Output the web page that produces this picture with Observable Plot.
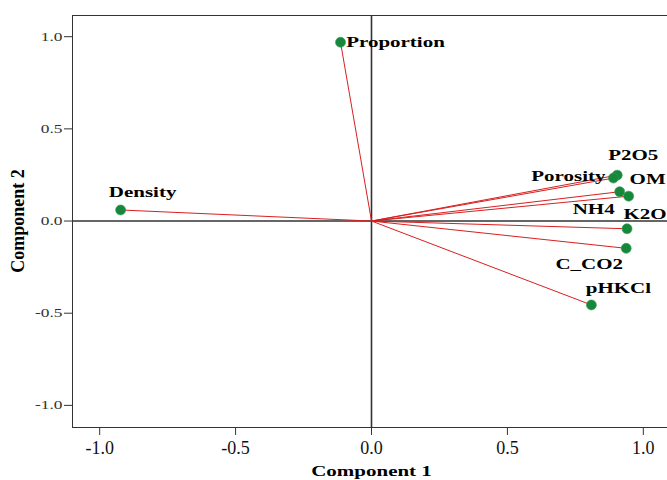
<!DOCTYPE html>
<html><head><meta charset="utf-8">
<script src="https://cdn.jsdelivr.net/npm/d3@7"></script>
<script src="https://cdn.jsdelivr.net/npm/@observablehq/plot@0.6"></script>
<style>
html,body{margin:0;padding:0;overflow:hidden;background:#fff}
#chart svg{max-width:none !important;width:672px !important;height:480px !important;display:block}
</style>
</head><body><div id="chart"></div>
<script>
// Component loadings
const variables = ["Proportion", "Density", "P2O5", "Porosity", "OM", "NH4", "K2O", "C_CO2", "pHKCl"];
const comp1 = [-0.114, -0.923, 0.904, 0.890, 0.946, 0.913, 0.940, 0.937, 0.809];
const comp2 = [0.970, 0.060, 0.249, 0.233, 0.135, 0.159, -0.042, -0.148, -0.455];
const xTicks = [-1.0, -0.5, 0.0, 0.5, 1.0];
const yTicks = [-1.0, -0.5, 0.0, 0.5, 1.0];
const xTitle = "Component 1";
const yTitle = "Component 2";

const data = variables.map((name, i) => ({name, c1: comp1[i], c2: comp2[i]}));

// label placement (pixel offsets, layout only)
const labelOffset = {
  Proportion: [55, 0], Density: [22, -18], P2O5: [16, -20], Porosity: [-45, -2],
  OM: [19, -17], NH4: [-26, 17], K2O: [18, -15], C_CO2: [-37, 16], pHKCl: [27, -17]
};

const X0 = -1.1, X1 = 1.1, Y0 = -1.12, Y1 = 1.115;
const axisColor = "#333";

const marks = [
  Plot.ruleY([0], {stroke: axisColor, strokeWidth: 1.6}),
  Plot.ruleX([0], {stroke: axisColor, strokeWidth: 1.6}),
  Plot.frame({stroke: axisColor, strokeWidth: 1}),
  Plot.ruleX(xTicks, {x: d => d, y1: Y0, y2: Y0, insetBottom: -8, stroke: axisColor}),
  Plot.ruleY(yTicks, {y: d => d, x1: X0, x2: X0, insetLeft: -8, stroke: axisColor}),
  Plot.link(data, {x1: 0, y1: 0, x2: "c1", y2: "c2", stroke: "#d91f1f", strokeWidth: 1}),
  Plot.dot(data, {x: "c1", y: "c2", r: 5, fill: "#17873b", stroke: "#2c9e52", strokeWidth: 0.6}),
  Plot.text(xTicks, {x: d => d, y: Y0, dy: 21, text: d => d.toFixed(1), fontSize: 18, fill: "#111"}),
  Plot.text(yTicks, {x: X0, y: d => d, dx: -10, text: d => d.toFixed(1), textAnchor: "end", fontSize: 12, fill: "#333"}),
  ...data.map(d => Plot.text([d], {
    x: "c1", y: "c2", text: "name", dx: labelOffset[d.name][0], dy: labelOffset[d.name][1],
    fontSize: 15, fontWeight: "bold", fill: "#000"
  })),
  Plot.text([xTitle], {x: 0, y: Y0, dy: 44, text: d => d, fontSize: 15, fontWeight: "bold", fill: "#000"}),
  Plot.text([yTitle], {x: X0, y: 0, dx: -54, rotate: -90, text: d => d, fontSize: 18, fontWeight: "bold", fill: "#000"})
];

const chart = Plot.plot({
  width: 672, height: 480,
  marginLeft: 72, marginRight: 2, marginTop: 15, marginBottom: 53,
  x: {domain: [X0, X1], axis: null},
  y: {domain: [Y0, Y1], axis: null},
  style: {background: "white", fontFamily: "'Liberation Serif', 'Times New Roman', serif", overflow: "visible"},
  marks
});
document.getElementById("chart").appendChild(chart);

// horizontally widen some texts to mimic the stretched reference lettering
const stretch = {"15": 1.4, "12": 1.45};
chart.querySelectorAll('g[aria-label="text"]').forEach(g => {
  const s = stretch[g.getAttribute("font-size")];
  if (!s) return;
  g.querySelectorAll("text").forEach(t => {
    let tr = t.getAttribute("transform") || "";
    let tx = 0, ty = 0, moved = false;
    const ax = t.getAttribute("x"), ay = t.getAttribute("y");
    if (ax != null && /^-?[\d.]+$/.test(ax)) { tx = +ax; t.removeAttribute("x"); moved = true; }
    if (ay != null && /^-?[\d.]+$/.test(ay)) { ty = +ay; t.removeAttribute("y"); moved = true; }
    if (moved) tr = `translate(${tx},${ty}) ` + tr;
    t.setAttribute("transform", tr + ` scale(${s},1)`);
  });
});
</script>
</body></html>
